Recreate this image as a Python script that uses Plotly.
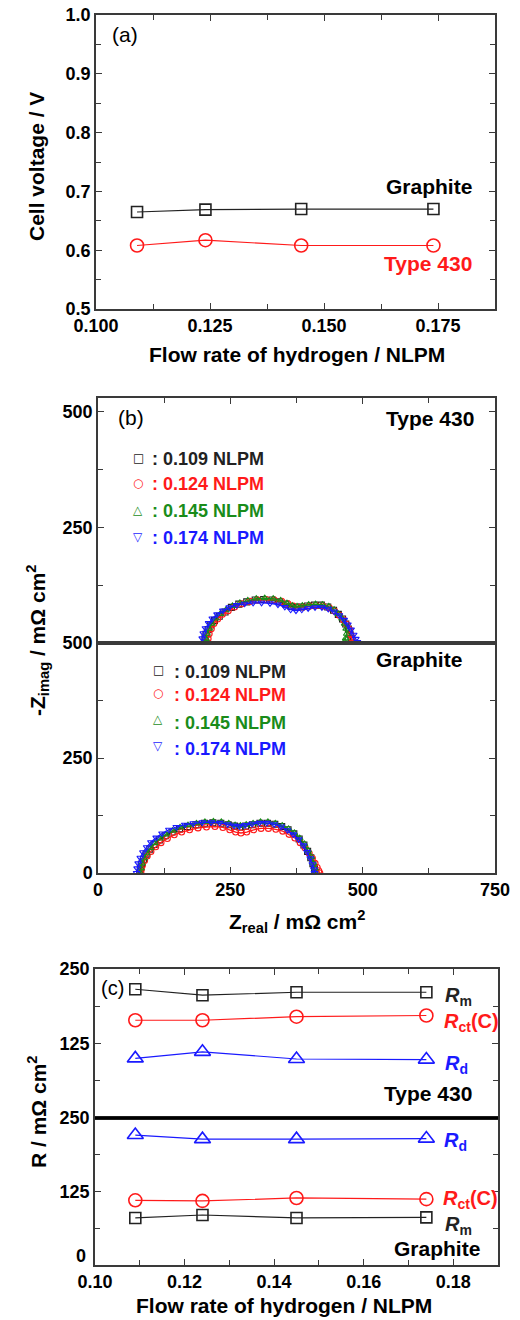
import plotly.graph_objects as go

# ---------------- data ----------------
flow = [0.109, 0.124, 0.145, 0.174]
v_graphite = [0.665, 0.669, 0.670, 0.670]
v_type430 = [0.608, 0.617, 0.608, 0.608]

flow_labels = [": 0.109 NLPM", ": 0.124 NLPM", ": 0.145 NLPM", ": 0.174 NLPM"]

# Nyquist, Type 430
t109_zr = [201, 202, 204, 208, 213, 220, 229, 240, 252, 266, 281, 297, 313, 329, 343, 355, 365, 374, 384, 396, 409, 422, 434, 445, 454, 462, 468, 473, 476, 478, 479]
t109_zi = [0, 9, 19, 29, 39, 49, 58, 67, 77, 84, 89, 93, 94, 93, 89, 84, 79, 77, 78, 80, 82, 82, 78, 71, 62, 52, 41, 30, 19, 9, 0]
t124_zr = [207, 208, 210, 214, 219, 226, 235, 246, 258, 272, 287, 302, 318, 333, 347, 359, 369, 378, 388, 400, 412, 425, 437, 447, 456, 464, 470, 475, 478, 480, 481]
t124_zi = [0, 9, 20, 31, 42, 52, 62, 70, 78, 85, 90, 93, 94, 93, 90, 85, 80, 77, 78, 80, 81, 80, 76, 69, 60, 50, 40, 29, 18, 8, 0]
t145_zr = [203, 204, 206, 210, 215, 222, 231, 242, 254, 268, 283, 299, 315, 331, 345, 357, 367, 376, 386, 398, 411, 424, 436, 446, 454, 461, 466, 469, 470, 468, 466]
t145_zi = [0, 9, 20, 31, 42, 53, 63, 72, 80, 87, 92, 96, 97, 96, 92, 86, 81, 79, 81, 83, 84, 83, 79, 72, 63, 53, 42, 31, 20, 10, 3]
t174_zr = [196, 197, 199, 203, 209, 216, 225, 236, 248, 262, 277, 293, 309, 325, 340, 353, 364, 374, 385, 397, 410, 423, 435, 446, 456, 465, 472, 478, 483, 487, 490]
t174_zi = [0, 10, 21, 32, 43, 53, 62, 70, 77, 82, 85, 87, 87, 86, 83, 78, 72, 70, 72, 75, 77, 77, 74, 68, 60, 50, 40, 29, 18, 9, 2]

# Nyquist, Graphite
g109_zr = [79, 80, 82, 86, 91, 98, 106, 116, 127, 140, 154, 169, 185, 201, 217, 232, 246, 258, 268, 279, 292, 306, 320, 334, 347, 359, 370, 380, 389, 396, 402, 406, 409, 410]
g109_zi = [0, 9, 19, 30, 41, 52, 62, 72, 81, 89, 96, 101, 105, 108, 109, 108, 105, 102, 100, 102, 105, 108, 108, 106, 101, 94, 85, 74, 61, 47, 33, 20, 9, 0]
g124_zr = [81, 82, 84, 88, 93, 100, 109, 119, 131, 144, 158, 173, 189, 205, 221, 236, 249, 260, 270, 281, 294, 308, 322, 336, 349, 361, 372, 382, 391, 399, 405, 410, 414, 417, 419]
g124_zi = [0, 8, 17, 27, 37, 47, 57, 66, 75, 83, 89, 94, 98, 100, 101, 99, 94, 89, 87, 89, 94, 97, 97, 95, 91, 84, 76, 66, 55, 43, 32, 21, 12, 5, 0]
g145_zr = [80, 81, 83, 87, 92, 99, 107, 117, 128, 141, 155, 170, 186, 202, 218, 233, 247, 259, 269, 280, 293, 307, 321, 335, 348, 360, 371, 381, 390, 397, 403, 407, 410, 411]
g145_zi = [0, 10, 21, 32, 43, 54, 65, 75, 84, 92, 99, 104, 108, 111, 112, 111, 108, 104, 103, 105, 108, 111, 111, 108, 103, 96, 87, 76, 63, 49, 35, 21, 10, 0]
g174_zr = [73, 74, 76, 80, 85, 92, 100, 110, 121, 134, 148, 164, 180, 197, 214, 230, 245, 257, 267, 278, 291, 305, 319, 333, 346, 358, 369, 379, 388, 395, 401, 405, 408, 409]
g174_zi = [0, 10, 21, 33, 45, 56, 67, 77, 86, 94, 100, 105, 108, 110, 110, 109, 106, 103, 102, 104, 107, 109, 109, 106, 101, 93, 84, 73, 60, 46, 32, 19, 8, 0]

# Resistances (c)
t430_rm = [216, 206, 211, 211]
t430_rct = [164, 164, 170, 172]
t430_rd = [100, 111, 99, 98]
gr_rd = [221, 214, 214, 215]
gr_rct = [110, 109, 114, 112]
gr_rm = [80, 85, 80, 81]

# ---------------- styling ----------------
W, H = 520, 1320
FONT = "Liberation Sans"
AX = "#3a3a3a"
BLACK, RED, GREEN, BLUE = "#222222", "#ff1a1a", "#1a8c1a", "#1a1aff"


def px(x):
    return x / W


def py(y):
    return 1 - y / H


fig = go.Figure()


def axis_common(**kw):
    d = dict(showline=True, linecolor=AX, linewidth=1.5, ticks="inside", ticklen=6,
             tickwidth=1.2, tickcolor=AX, showgrid=False, zeroline=False, automargin=False,
             tickfont=dict(family=FONT, size=18, color="black", weight="bold"))
    d.update(kw)
    return d


# panel (a)
fig.add_trace(go.Scatter(x=flow, y=v_graphite, mode="lines+markers", xaxis="x", yaxis="y",
                         line=dict(color=BLACK, width=1.2),
                         marker=dict(symbol="square-open", size=11, color=BLACK, line=dict(width=1.6))))
fig.add_trace(go.Scatter(x=flow, y=v_type430, mode="lines+markers", xaxis="x", yaxis="y",
                         line=dict(color=RED, width=1.2),
                         marker=dict(symbol="circle-open", size=13, color=RED, line=dict(width=1.6))))

# panel (b)
nyq = [
    (t109_zr, t109_zi, BLACK, "square-open", "x2", "y2"),
    (t124_zr, t124_zi, RED, "circle-open", "x2", "y2"),
    (t145_zr, t145_zi, GREEN, "triangle-up-open", "x2", "y2"),
    (t174_zr, t174_zi, BLUE, "triangle-down-open", "x2", "y2"),
    (g109_zr, g109_zi, BLACK, "square-open", "x3", "y3"),
    (g124_zr, g124_zi, RED, "circle-open", "x3", "y3"),
    (g145_zr, g145_zi, GREEN, "triangle-up-open", "x3", "y3"),
    (g174_zr, g174_zi, BLUE, "triangle-down-open", "x3", "y3"),
]
for zr, zi, col, sym, xa, ya in nyq:
    fig.add_trace(go.Scatter(x=zr, y=zi, mode="lines+markers", xaxis=xa, yaxis=ya,
                             line=dict(color=col, width=1.3),
                             marker=dict(symbol=sym, size=6, color=col, line=dict(width=1.1)),
                             cliponaxis=True))

# panel (c)
res = [
    (t430_rm, BLACK, "square-open", 11, "x4", "y4"),
    (t430_rct, RED, "circle-open", 13, "x4", "y4"),
    (t430_rd, BLUE, "triangle-up-open", 14, "x4", "y4"),
    (gr_rd, BLUE, "triangle-up-open", 14, "x5", "y5"),
    (gr_rct, RED, "circle-open", 13, "x5", "y5"),
    (gr_rm, BLACK, "square-open", 11, "x5", "y5"),
]
for vals, col, sym, sz, xa, ya in res:
    fig.add_trace(go.Scatter(x=flow, y=vals, mode="lines+markers", xaxis=xa, yaxis=ya,
                             line=dict(color=col, width=1.2),
                             marker=dict(symbol=sym, size=sz, color=col, line=dict(width=1.6))))

layout = dict(
    width=W, height=H, showlegend=False, plot_bgcolor="white", paper_bgcolor="white",
    margin=dict(l=0, r=0, t=0, b=0, pad=0, autoexpand=False),
    # (a)
    xaxis=axis_common(domain=[px(96), px(495)], range=[0.1, 0.1875], tickvals=[0.1, 0.125, 0.15, 0.175],
                      tickformat=".3f", mirror="allticks", anchor="y",
                      minor=dict(ticks="inside", ticklen=5, tickcolor=AX, dtick=0.0125, tick0=0.1)),
    yaxis=axis_common(domain=[py(309), py(15)], range=[0.5, 1.0], dtick=0.1, tickformat=".1f",
                      mirror="allticks", anchor="x",
                      minor=dict(ticks="inside", ticklen=5, tickcolor=AX, dtick=0.05)),
    # (b) upper
    xaxis2=axis_common(domain=[px(98), px(495)], range=[0, 750], dtick=250, side="top",
                       showticklabels=False, mirror=True, anchor="y2",
                       minor=dict(ticks="inside", ticklen=5, tickcolor=AX, dtick=125)),
    yaxis2=axis_common(domain=[py(643), py(398)], range=[0, 530], tickvals=[250, 500],
                       mirror="allticks", anchor="x2",
                       minor=dict(ticks="inside", ticklen=5, tickcolor=AX, tickvals=[125, 375])),
    # (b) lower
    xaxis3=axis_common(domain=[px(98), px(495)], range=[0, 750], dtick=250, mirror=True, anchor="y3",
                       minor=dict(ticks="inside", ticklen=5, tickcolor=AX, dtick=125)),
    yaxis3=axis_common(domain=[py(873), py(643)], range=[0, 500], tickvals=[0, 250, 500],
                       mirror="allticks", anchor="x3",
                       minor=dict(ticks="inside", ticklen=5, tickcolor=AX, tickvals=[125, 375])),
    # (c) upper
    xaxis4=axis_common(domain=[px(95), px(498)], range=[0.1, 0.19], dtick=0.02, tick0=0.1, side="top",
                       showticklabels=False, mirror=True, anchor="y4",
                       minor=dict(ticks="inside", ticklen=5, tickcolor=AX, dtick=0.01, tick0=0.1)),
    yaxis4=axis_common(domain=[py(1118), py(969)], range=[0, 250], tickvals=[125, 250],
                       mirror="allticks", anchor="x4",
                       minor=dict(ticks="inside", ticklen=5, tickcolor=AX, tickvals=[62.5, 187.5])),
    # (c) lower
    xaxis5=axis_common(domain=[px(95), px(498)], range=[0.1, 0.19], dtick=0.02, tick0=0.1,
                       tickformat=".2f", mirror=True, anchor="y5",
                       minor=dict(ticks="inside", ticklen=5, tickcolor=AX, dtick=0.01, tick0=0.1)),
    yaxis5=axis_common(domain=[py(1265), py(1118)], range=[0, 250], tickvals=[0, 125, 250],
                       ticktext=["", "125", "250"],
                       mirror="allticks", anchor="x5",
                       minor=dict(ticks="inside", ticklen=5, tickcolor=AX, tickvals=[62.5, 187.5])),
)
fig.update_layout(**layout)

# separator line in (c)
fig.add_shape(type="line", xref="paper", yref="paper", x0=px(95), x1=px(498), y0=py(1118), y1=py(1118),
              line=dict(color="black", width=3))

anns = []


def ann(text, x, y, size=20, color="black", xanchor="left", bold=True, angle=0, family=FONT):
    t = f"<b>{text}</b>" if bold else text
    anns.append(dict(text=t, x=px(x), y=py(y), xref="paper", yref="paper", showarrow=False,
                     xanchor=xanchor, yanchor="middle", textangle=angle,
                     font=dict(family=family, size=size, color=color)))


# axis titles
ann("Cell voltage / V", 37, 167, size=21, angle=-90, xanchor="center")
ann("Flow rate of hydrogen / NLPM", 297, 354, size=21, xanchor="center")
ann("-Z<sub>imag</sub> / mΩ cm<sup>2</sup>", 37, 641, size=21, angle=-90, xanchor="center")
ann("Z<sub>real</sub> / mΩ cm<sup>2</sup>", 297, 921, size=21, xanchor="center")
ann("R / mΩ cm<sup>2</sup>", 37, 1112, size=21, angle=-90, xanchor="center")
ann("Flow rate of hydrogen / NLPM", 284, 1305, size=21, xanchor="center")
# raised zero label of the lower (c) axis
ann("0", 88, 1256, size=18, xanchor="right")

# panel (a) labels
ann("(a)", 110, 34, size=21, bold=False)
ann("Graphite", 474, 187, size=21, color="black", xanchor="right")
ann("Type 430", 474, 264, size=21, color=RED, xanchor="right")

# panel (b) labels
ann("(b)", 116, 417, size=21, bold=False)
ann("Type 430", 476, 418, size=21, xanchor="right")
ann("Graphite", 464, 659, size=21, xanchor="right")
symbols = ["□", "○", "△", "▽"]
cols = [BLACK, RED, GREEN, BLUE]
up_y = [459, 484, 511, 538]
lo_y = [672, 695, 723, 749]
lo_sym_y = [670, 693, 719, 746]
for s, lab, c, yy in zip(symbols, flow_labels, cols, up_y):
    ann(s, 138, yy - 1, size=12, color=c, xanchor="center", bold=False, family="DejaVu Sans")
    ann(lab, 150, yy, size=18, color=c)
for s, lab, c, yy, ys in zip(symbols, flow_labels, cols, lo_y, lo_sym_y):
    ann(s, 158, ys, size=12, color=c, xanchor="center", bold=False, family="DejaVu Sans")
    ann(lab, 172, yy, size=18, color=c)

# panel (c) labels
ann("(c)", 99, 988, size=20, bold=False)
ann("<i>R</i><sub>m</sub>", 443, 997, color=BLACK)
ann("<i>R</i><sub>ct</sub>(C)", 442, 1022, color=RED)
ann("<i>R</i><sub>d</sub>", 443, 1064, color=BLUE)
ann("Type 430", 474, 1093, size=21, xanchor="right")
ann("<i>R</i><sub>d</sub>", 442, 1141, color=BLUE)
ann("<i>R</i><sub>ct</sub>(C)", 441, 1199, color=RED)
ann("<i>R</i><sub>m</sub>", 443, 1225, color=BLACK)
ann("Graphite", 482, 1248, size=21, xanchor="right")

fig.update_layout(annotations=anns)
fig.write_html("out.html", config={"displayModeBar": False},
               post_script="document.body.style.margin='0';document.body.style.padding='0';"
                           "document.body.style.overflow='hidden';")
